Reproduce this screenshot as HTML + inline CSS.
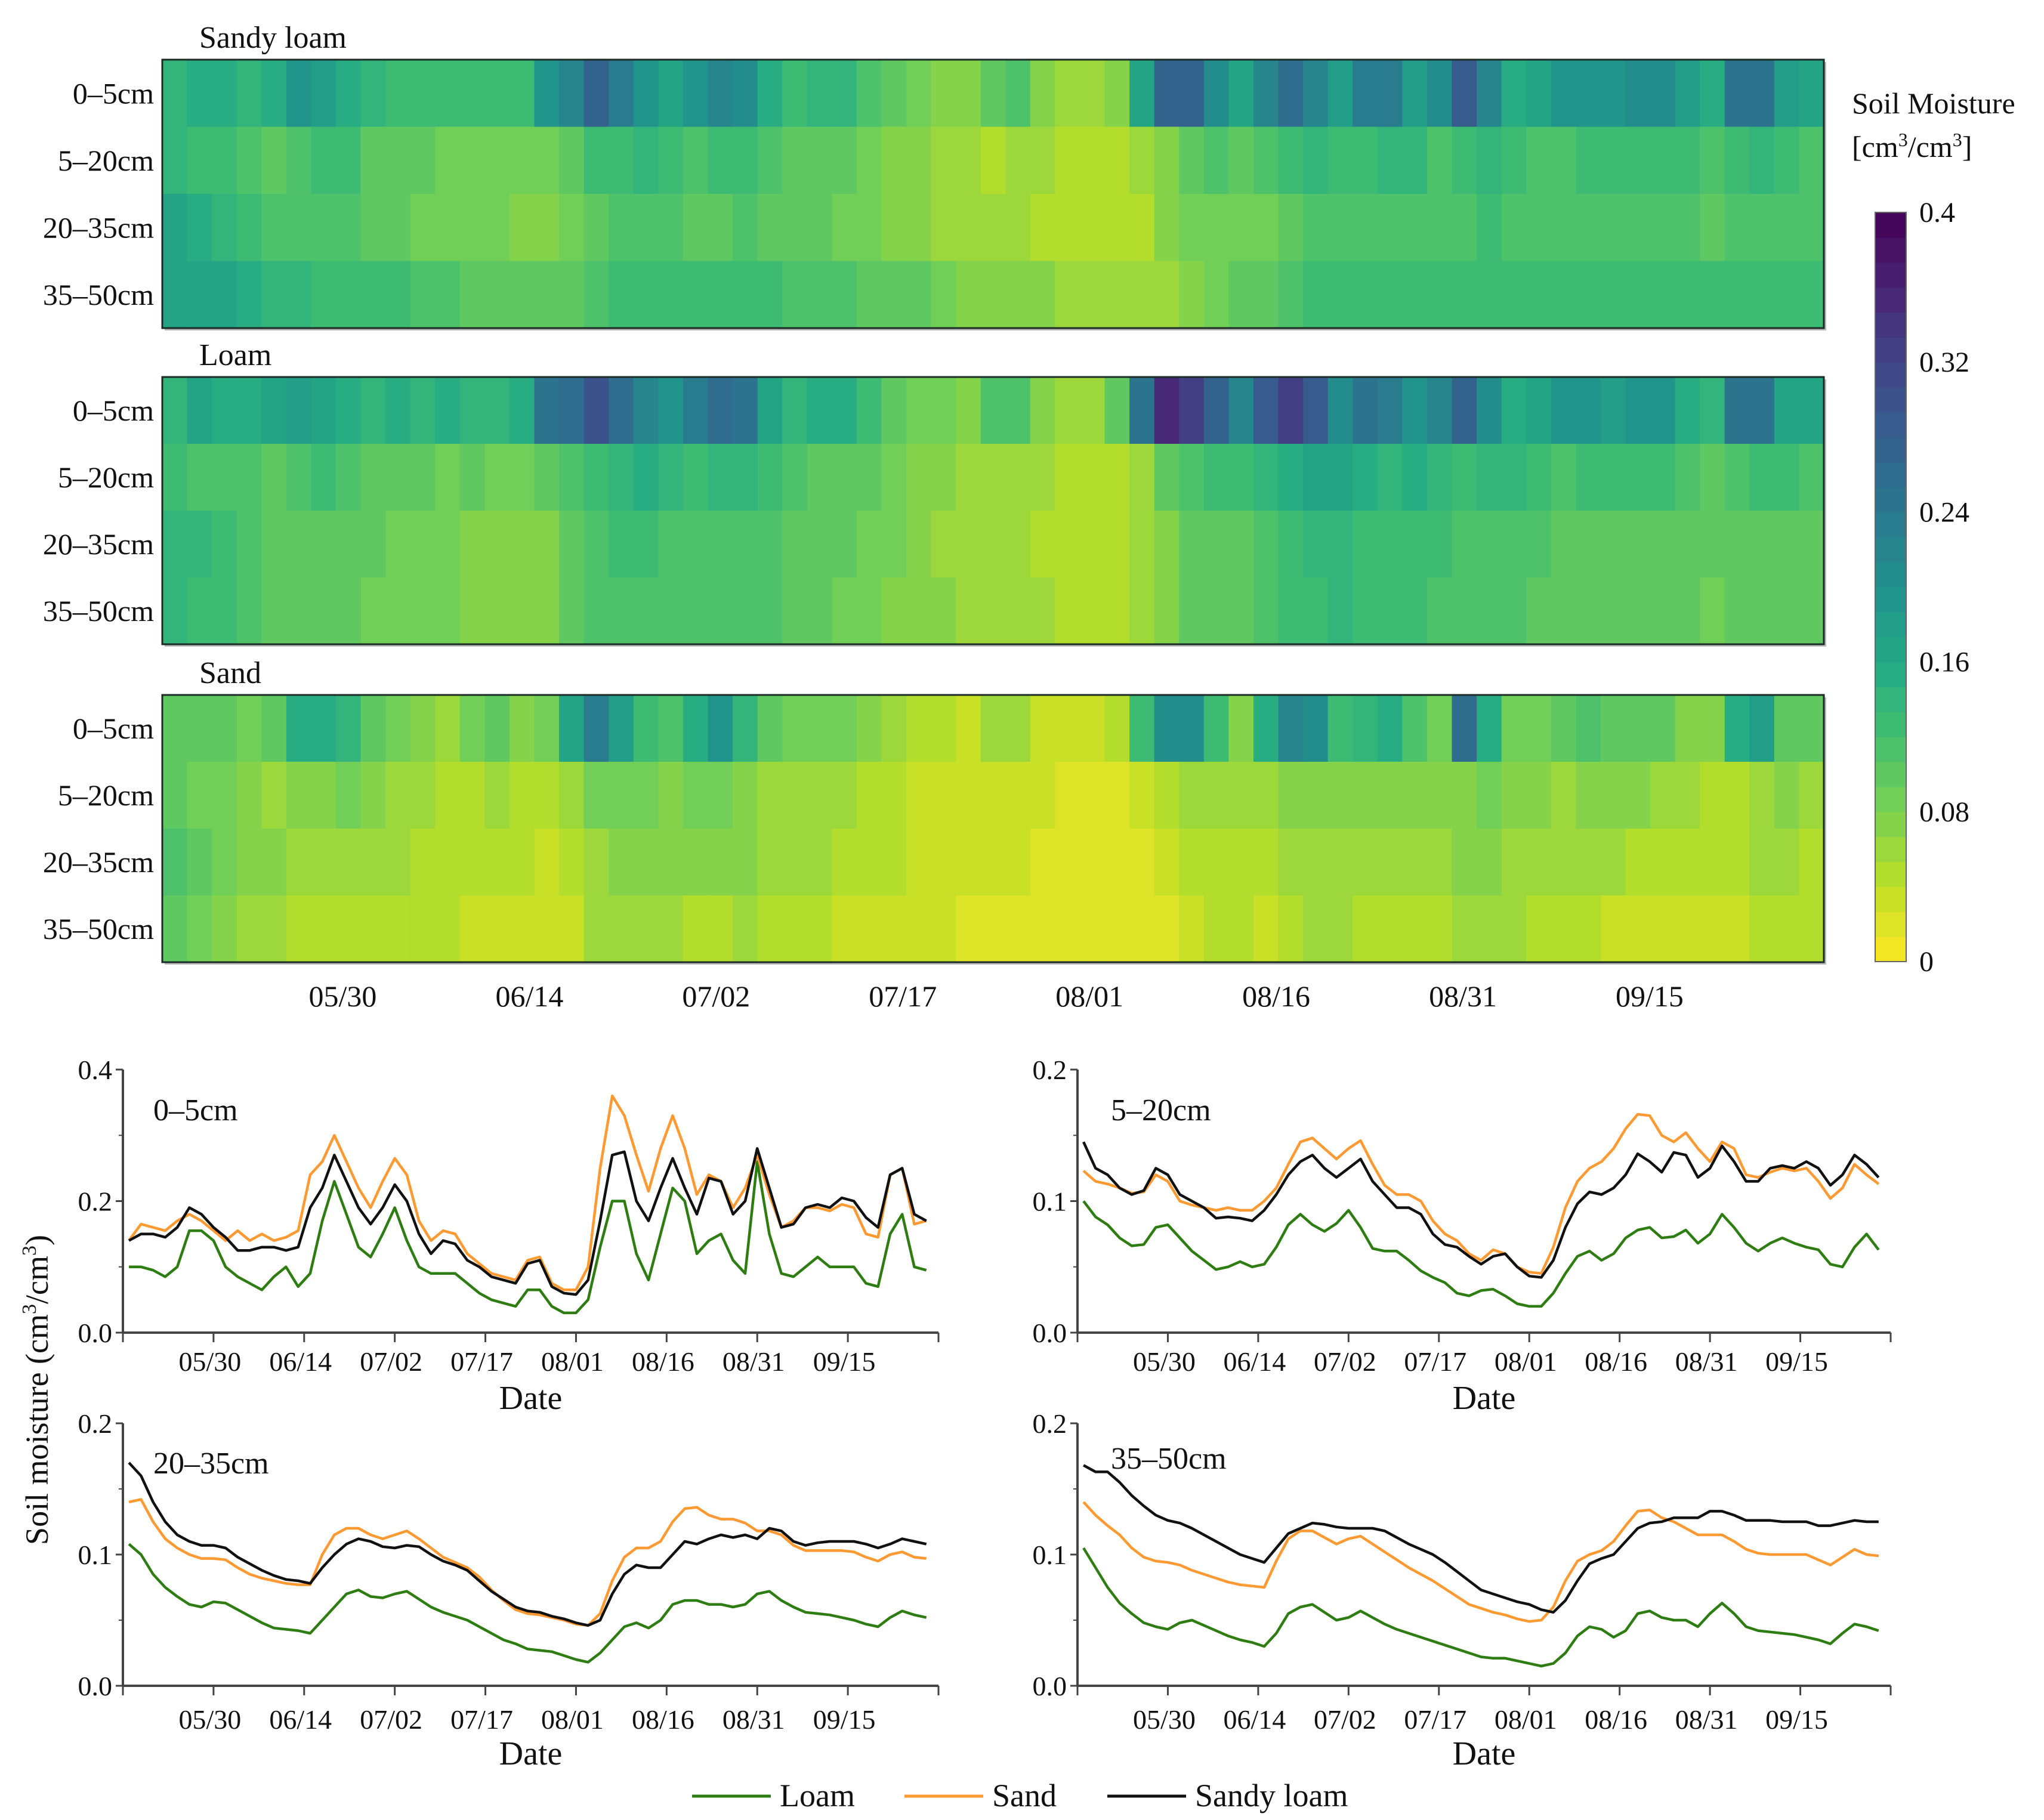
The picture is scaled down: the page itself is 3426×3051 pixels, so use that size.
<!DOCTYPE html>
<html><head><meta charset="utf-8">
<style>
html,body{margin:0;padding:0;background:#fff;}
svg{display:block;font-family:"Liberation Serif",serif;}
</style></head>
<body>
<svg id="fig" width="3426" height="3051" viewBox="0 0 3426 3051" xmlns="http://www.w3.org/2000/svg"></svg>
<script>
// ---- data: daily samples every 2 days (67 points) ----
const tickLabels = ["05/30","06/14","07/02","07/17","08/01","08/16","08/31","09/15"];
const tickDays = [14,29,44,59,74,89,104,119];
const depths = ["0–5cm","5–20cm","20–35cm","35–50cm"];
const cbTicks = [0,0.08,0.16,0.24,0.32,0.4];
const cbTickLabels = ["0","0.08","0.16","0.24","0.32","0.4"];
const yTicksTop = [0.0,0.2,0.4];
const yTicksLow = [0.0,0.1,0.2];

const sandyLoam0_5 = [.14,.15,.15,.145,.16,.19,.18,.16,.145,.125,.125,.13,.13,.125,.13,.19,.22,.27,.23,.19,.165,.19,.225,.2,.15,.12,.14,.135,.11,.1,.085,.08,.075,.105,.11,.07,.06,.058,.08,.17,.27,.275,.2,.17,.22,.265,.22,.18,.235,.23,.18,.2,.28,.22,.16,.165,.19,.195,.19,.205,.2,.175,.16,.24,.25,.18,.17];
const sand0_5 = [.14,.165,.16,.155,.17,.18,.17,.155,.14,.155,.14,.15,.14,.145,.155,.24,.26,.3,.26,.22,.19,.23,.265,.24,.17,.14,.155,.15,.12,.105,.09,.085,.08,.11,.115,.075,.065,.065,.1,.25,.36,.33,.27,.215,.28,.33,.28,.21,.24,.23,.19,.22,.27,.21,.16,.17,.19,.19,.185,.195,.19,.15,.145,.24,.25,.165,.17];
const loam0_5 = [.1,.1,.095,.085,.1,.155,.155,.14,.1,.085,.075,.065,.085,.1,.07,.09,.17,.23,.18,.13,.115,.15,.19,.14,.1,.09,.09,.09,.075,.06,.05,.045,.04,.065,.065,.04,.03,.03,.05,.13,.2,.2,.12,.08,.15,.22,.2,.12,.14,.15,.11,.09,.26,.15,.09,.085,.1,.115,.1,.1,.1,.075,.07,.15,.18,.1,.095];

const sandyLoam5_20 = [.145,.125,.12,.11,.105,.108,.125,.12,.105,.1,.095,.087,.088,.087,.085,.093,.105,.12,.13,.135,.125,.118,.125,.132,.115,.105,.095,.095,.09,.075,.067,.065,.058,.052,.058,.06,.05,.043,.042,.055,.08,.098,.107,.105,.11,.12,.136,.13,.122,.137,.135,.118,.125,.142,.13,.115,.115,.125,.127,.125,.13,.125,.112,.12,.135,.128,.118];
const sand5_20 = [.123,.115,.113,.11,.106,.107,.12,.115,.1,.097,.095,.093,.095,.093,.093,.1,.11,.128,.145,.148,.14,.132,.14,.146,.128,.112,.105,.105,.1,.085,.075,.07,.06,.055,.063,.06,.05,.046,.045,.065,.095,.115,.125,.13,.14,.155,.166,.165,.15,.145,.152,.14,.13,.145,.14,.12,.118,.122,.125,.123,.125,.115,.102,.11,.128,.12,.113];
const loam5_20 = [.1,.088,.082,.072,.066,.067,.08,.082,.072,.062,.055,.048,.05,.054,.05,.052,.065,.082,.09,.082,.077,.083,.093,.08,.064,.062,.062,.055,.047,.042,.038,.03,.028,.032,.033,.028,.022,.02,.02,.03,.045,.058,.062,.055,.06,.072,.078,.08,.072,.073,.078,.068,.075,.09,.08,.068,.062,.068,.072,.068,.065,.063,.052,.05,.065,.075,.063];

const sandyLoam20_35 = [.17,.16,.14,.125,.115,.11,.107,.107,.105,.098,.093,.088,.084,.081,.08,.078,.09,.1,.108,.112,.11,.106,.105,.107,.106,.1,.095,.092,.088,.08,.072,.066,.06,.057,.056,.053,.051,.048,.046,.05,.07,.085,.092,.09,.09,.1,.11,.108,.112,.115,.113,.115,.112,.12,.118,.11,.107,.109,.11,.11,.11,.108,.105,.108,.112,.11,.108];
const sand20_35 = [.14,.142,.125,.112,.105,.1,.097,.097,.096,.09,.085,.082,.08,.078,.077,.077,.1,.115,.12,.12,.115,.112,.115,.118,.112,.105,.098,.094,.09,.083,.073,.065,.058,.055,.054,.052,.05,.047,.046,.055,.08,.098,.105,.105,.11,.125,.135,.136,.13,.127,.127,.124,.118,.118,.115,.107,.103,.103,.103,.103,.102,.098,.095,.1,.102,.098,.097];
const loam20_35 = [.108,.1,.085,.075,.068,.062,.06,.064,.063,.058,.053,.048,.044,.043,.042,.04,.05,.06,.07,.073,.068,.067,.07,.072,.066,.06,.056,.053,.05,.045,.04,.035,.032,.028,.027,.026,.023,.02,.018,.025,.035,.045,.048,.044,.05,.062,.065,.065,.062,.062,.06,.062,.07,.072,.065,.06,.056,.055,.054,.052,.05,.047,.045,.052,.057,.054,.052];

const sandyLoam35_50 = [.168,.163,.163,.155,.145,.137,.13,.126,.124,.12,.115,.11,.105,.1,.097,.094,.105,.116,.12,.124,.123,.121,.12,.12,.12,.118,.113,.108,.104,.1,.094,.087,.08,.073,.07,.067,.064,.062,.058,.056,.065,.08,.093,.097,.1,.11,.12,.124,.125,.128,.128,.128,.133,.133,.13,.126,.126,.126,.125,.125,.125,.122,.122,.124,.126,.125,.125];
const sand35_50 = [.14,.13,.122,.115,.105,.098,.095,.094,.092,.088,.085,.082,.079,.077,.076,.075,.095,.112,.118,.118,.113,.108,.112,.114,.108,.102,.096,.09,.085,.08,.074,.068,.062,.059,.056,.054,.051,.049,.05,.06,.08,.095,.1,.103,.11,.122,.133,.134,.128,.125,.12,.115,.115,.115,.11,.104,.101,.1,.1,.1,.1,.096,.092,.098,.104,.1,.099];
const loam35_50 = [.105,.09,.075,.063,.055,.048,.045,.043,.048,.05,.046,.042,.038,.035,.033,.03,.04,.055,.06,.062,.056,.05,.052,.057,.052,.047,.043,.04,.037,.034,.031,.028,.025,.022,.021,.021,.019,.017,.015,.017,.025,.038,.045,.043,.037,.042,.055,.057,.052,.05,.05,.045,.055,.063,.055,.045,.042,.041,.04,.039,.037,.035,.032,.04,.047,.045,.042];

const NS="http://www.w3.org/2000/svg";
const svg=document.getElementById('fig');
function mk(tag,attrs,parent){const e=document.createElementNS(NS,tag);for(const k in attrs)e.setAttribute(k,attrs[k]);(parent||svg).appendChild(e);return e;}
function txt(s,attrs,parent){const e=mk('text',attrs,parent);e.textContent=s;return e;}

// viridis
const vir=[[68,1,84],[72,36,117],[65,68,135],[53,95,141],[42,120,142],[33,145,140],[34,168,132],[68,191,112],[122,209,81],[189,223,38],[253,231,37]];
function viridis(t){t=Math.max(0,Math.min(1,t));const p=t*10,i=Math.min(9,Math.floor(p)),f=p-i;const a=vir[i],b=vir[i+1];return 'rgb('+[0,1,2].map(k=>Math.round(a[k]+(b[k]-a[k])*f)).join(',')+')';}
function colorFor(v){let lvl=Math.floor(v/0.4*30);lvl=Math.max(0,Math.min(29,lvl));return viridis(1-(lvl+0.5)/30);}

// ---- heatmaps ----
const HX0=272,HX1=3057;
const hx=d=>HX0+(HX1-HX0)*d/134;
const hxTick=d=>HX0+(HX1-HX0)*(d+0.5)/133.5;
const panels=[
 {name:"Sandy loam",top:100,bottom:550,rows:[sandyLoam0_5,sandyLoam5_20,sandyLoam20_35,sandyLoam35_50],key:'sandy-loam'},
 {name:"Loam",top:632,bottom:1080,rows:[sand0_5,sand5_20,sand20_35,sand35_50],key:'loam'},
 {name:"Sand",top:1165,bottom:1613,rows:[loam0_5,loam5_20,loam20_35,loam35_50],key:'sand'}
];
panels.forEach(p=>{
 const g=mk('g',{});
 
 
 const rh=(p.bottom-p.top)/4;
 mk('rect',{x:HX0+4,y:p.top+4,width:HX1-HX0,height:p.bottom-p.top,fill:'#bbb'},g);
 p.rows.forEach((arr,r)=>{
  arr.forEach((v,i)=>{
   const c=mk('rect',{x:hx(2*i),y:p.top+r*rh,width:hx(2*i+2)-hx(2*i)+0.6,height:rh+0.6,fill:colorFor(v)},g);
   
   
  });
  const l=txt(depths[r],{x:258,y:p.top+r*rh+rh/2+17,'text-anchor':'end','font-size':50,fill:'#111'},g);
  
  
 });
 mk('rect',{x:HX0,y:p.top,width:HX1-HX0,height:p.bottom-p.top,fill:'none',stroke:'#1c2b25','stroke-width':3},g);
 const t=txt(p.name,{x:334,y:p.top-20,'font-size':52,fill:'#111'},g);
 
 
});
tickDays.forEach((d,i)=>{
 const t=txt(tickLabels[i],{x:hxTick(d),y:1687,'text-anchor':'middle','font-size':50,fill:'#111'});
 
 
});

// ---- colorbar ----
const CBX=3143,CBW=52,CBT=356,CBB=1612;
const cb=mk('g',{});


for(let k=0;k<30;k++){
 const y0=CBB-(CBB-CBT)*(k+1)/30;
 mk('rect',{x:CBX,y:y0,width:CBW,height:(CBB-CBT)/30+0.6,fill:viridis(1-(k+0.5)/30)},cb);
}
mk('rect',{x:CBX,y:CBT,width:CBW,height:CBB-CBT,fill:'none',stroke:'#666','stroke-width':2},cb);
cbTicks.forEach((v,i)=>{
 const y=CBB-(CBB-CBT)*v/0.4;
 const t=txt(cbTickLabels[i],{x:3217,y:y+16,'font-size':48,fill:'#111'},cb);
 
 
});
const ct=txt('Soil Moisture',{x:3104,y:190,'font-size':50,fill:'#111'});


const cu=mk('text',{x:3104,y:263,'font-size':50,fill:'#111'});


cu.innerHTML='[cm<tspan dy="-18" font-size="32">3</tspan><tspan dy="18">/cm</tspan><tspan dy="-18" font-size="32">3</tspan><tspan dy="18">]</tspan>';

// ---- line charts ----
const charts=[
 {label:"0–5cm",x0:206,x1:1573,yTop:1793,yBot:2234,max:0.4,ticks:yTicksTop,s:[loam0_5,sand0_5,sandyLoam0_5],dateY:2362,tickY:2298,lx:257,ly:1878},
 {label:"5–20cm",x0:1806,x1:3169,yTop:1793,yBot:2234,max:0.2,ticks:yTicksLow,s:[loam5_20,sand5_20,sandyLoam5_20],dateY:2362,tickY:2298,lx:1862,ly:1878},
 {label:"20–35cm",x0:206,x1:1573,yTop:2386,yBot:2826,max:0.2,ticks:yTicksLow,s:[loam20_35,sand20_35,sandyLoam20_35],dateY:2958,tickY:2898,lx:257,ly:2470},
 {label:"35–50cm",x0:1806,x1:3169,yTop:2386,yBot:2826,max:0.2,ticks:yTicksLow,s:[loam35_50,sand35_50,sandyLoam35_50],dateY:2958,tickY:2898,lx:1862,ly:2462}
];
const colors=['#2e7d12','#ff9a33','#111111'];
const seriesNames=['loam','sand','sandy-loam'];
charts.forEach((c,ci)=>{
 const g=mk('g',{});
 
 
 const X=d=>c.x0+(c.x1-c.x0)*(d+1)/135;
 const Y=v=>c.yBot-(c.yBot-c.yTop)*v/c.max;
 c.s.forEach((arr,si)=>{
  const pts=arr.map((v,i)=>X(2*i).toFixed(1)+','+Y(v).toFixed(1)).join(' ');
  const pl=mk('polyline',{points:pts,fill:'none',stroke:colors[si],'stroke-width':4.5,'stroke-linejoin':'round'},g);
  
  
 });
 mk('line',{x1:c.x0,y1:c.yTop,x2:c.x0,y2:c.yBot,stroke:'#444','stroke-width':4},g);
 mk('line',{x1:c.x0,y1:c.yBot,x2:c.x1,y2:c.yBot,stroke:'#444','stroke-width':4},g);
 mk('line',{x1:c.x1,y1:c.yBot,x2:c.x1,y2:c.yBot+16,stroke:'#444','stroke-width':3},g);
 c.ticks.forEach(v=>{
  mk('line',{x1:c.x0-12,y1:Y(v),x2:c.x0,y2:Y(v),stroke:'#444','stroke-width':3},g);
  const t=txt(v.toFixed(1),{x:c.x0-18,y:Y(v)+16,'text-anchor':'end','font-size':46,fill:'#111'},g);
  
  
 });
 for(let k=0;k<c.ticks.length-1;k++){const vm=(c.ticks[k]+c.ticks[k+1])/2;mk('line',{x1:c.x0-7,y1:Y(vm),x2:c.x0,y2:Y(vm),stroke:'#444','stroke-width':2},g);}
 mk('line',{x1:c.x0,y1:c.yBot,x2:c.x0,y2:c.yBot+16,stroke:'#444','stroke-width':3},g);
 tickDays.forEach((d,i)=>{
  mk('line',{x1:X(d),y1:c.yBot,x2:X(d),y2:c.yBot+16,stroke:'#444','stroke-width':3},g);
  const t=txt(tickLabels[i],{x:X(d)-6,y:c.tickY,'text-anchor':'middle','font-size':46,fill:'#111'},g);
  
  
 });
 const dt=txt('Date',{x:(c.x0+c.x1)/2,y:c.dateY,'text-anchor':'middle','font-size':56,fill:'#111'},g);
 
 
 const lb=txt(c.label,{x:c.lx,y:c.ly,'font-size':52,fill:'#111'},g);
 
 
});
const yt=mk('text',{x:0,y:0,transform:'translate(80,2330) rotate(-90)','text-anchor':'middle','font-size':54,fill:'#111'});


yt.innerHTML='Soil moisture (cm<tspan dy="-20" font-size="34">3</tspan><tspan dy="20">/cm</tspan><tspan dy="-20" font-size="34">3</tspan><tspan dy="20">)</tspan>';

const legNames=['Loam','Sand','Sandy loam'];
const legX=[1160,1516,1856];
legNames.forEach((n,i)=>{
 const g=mk('g',{});
 
 
 mk('line',{x1:legX[i],y1:3011,x2:legX[i]+132,y2:3011,stroke:colors[i],'stroke-width':5},g);
 txt(n,{x:legX[i]+147,y:3028,'font-size':54,fill:'#111'},g);
});
</script>
</body></html>
